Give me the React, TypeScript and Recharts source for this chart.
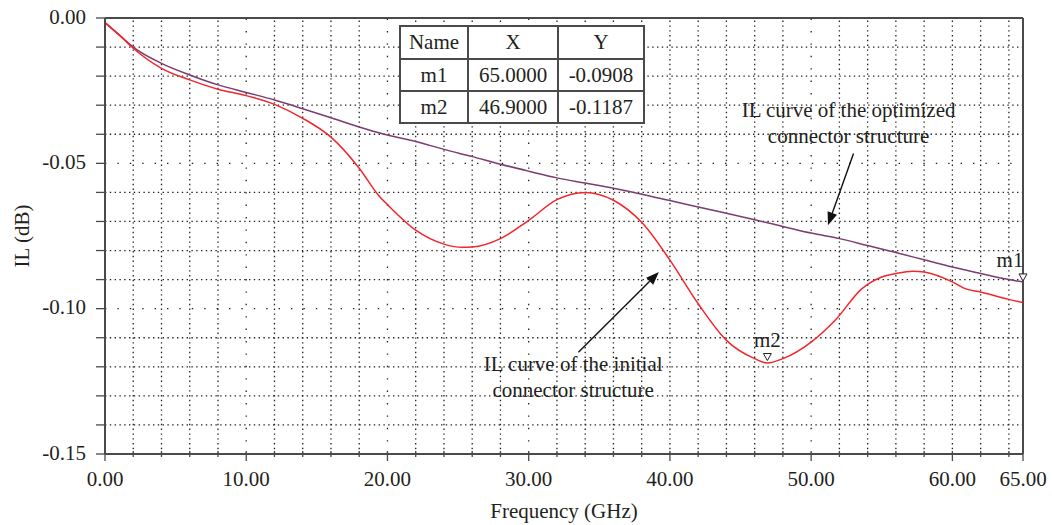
import React from 'react'
import { LineChart, Line, XAxis, YAxis, ReferenceLine, ReferenceDot } from 'recharts'

// optimized connector (purple)
const freqOpt = [0, 1, 2, 4, 6, 8, 10, 12, 14, 16, 18, 19.7, 22, 24, 26, 28, 30, 32, 34, 36, 38, 40, 42, 44, 46, 48, 50, 52, 54, 56, 58, 60, 62, 64, 65]
const ilOpt = [-0.0016, -0.0058, -0.01, -0.0156, -0.0196, -0.023, -0.0256, -0.0282, -0.0312, -0.0343, -0.0375, -0.0399, -0.0425, -0.0452, -0.0477, -0.0503, -0.0527, -0.055, -0.0568, -0.0586, -0.0606, -0.0628, -0.065, -0.0672, -0.0694, -0.0717, -0.074, -0.0759, -0.0783, -0.0807, -0.0832, -0.0857, -0.0879, -0.09, -0.0908]

// initial connector (red)
const freqInit = [0, 1, 2, 4, 6, 8, 10, 12, 14, 16, 18, 19.4, 20, 22, 24, 25.3, 26, 28, 30, 32, 34, 36, 38, 40, 42, 44, 46, 46.9, 48, 50, 51.7, 53.6, 55, 56, 57.2, 58, 60, 60.9, 62, 64, 65]
const ilInit = [-0.0016, -0.0058, -0.0104, -0.0173, -0.0213, -0.0245, -0.0267, -0.0297, -0.0345, -0.041, -0.0517, -0.0612, -0.0642, -0.073, -0.0778, -0.0789, -0.0788, -0.0759, -0.0696, -0.0625, -0.06, -0.0627, -0.0703, -0.0833, -0.0983, -0.1109, -0.1172, -0.1187, -0.1172, -0.1115, -0.104, -0.0931, -0.0891, -0.0879, -0.0871, -0.0874, -0.0908, -0.0931, -0.0943, -0.0968, -0.0979]

// markers
const markerNames = ['m1', 'm2']
const markerX = [65, 46.9]
const markerY = [-0.0908, -0.1187]

// axis ticks
const xTicks = [...Array.from({ length: 33 }, (_, i) => i * 2), 65]
const yTicks = Array.from({ length: 16 }, (_, i) => Number((-i * 0.01).toFixed(2)))
const xSparse = [10, 20, 30, 50]
const ySparse = [-0.05, -0.1]

const optData = freqOpt.map((f, i) => ({ f, il: ilOpt[i] }))
const initData = freqInit.map((f, i) => ({ f, il: ilInit[i] }))

const SERIF = '"Liberation Serif", "Times New Roman", serif'
const FS = 21
const INK = '#231f20'
const AXIS = '#4a4a4a'

const XTick = ({ x, y, payload }: any) => {
  const v = payload.value
  const major = v % 10 === 0 || v === 65
  return (
    <g>
      <line x1={x} x2={x} y1={y - 3} y2={y + (major ? 7 : 3)} stroke={AXIS} strokeWidth={1.3} />
      {major && (
        <text x={x} y={y + 32} textAnchor="middle" fontFamily={SERIF} fontSize={FS} fill={INK}>
          {v.toFixed(2)}
        </text>
      )}
    </g>
  )
}

const YTick = ({ x, y, payload }: any) => {
  const v = payload.value
  const major = Math.round(Math.abs(v) * 100) % 5 === 0
  return (
    <g>
      <line x1={x - 9} x2={x} y1={y} y2={y} stroke={AXIS} strokeWidth={1.3} />
      {major && (
        <text x={x - 19} y={y + 5.5} textAnchor="end" fontFamily={SERIF} fontSize={FS} fill={INK}>
          {v.toFixed(2)}
        </text>
      )}
    </g>
  )
}

const Arrow = ({ x1, y1, x2, y2 }: any) => {
  const a = Math.atan2(y2 - y1, x2 - x1)
  const L = 13
  const W = 5
  const bx = x2 - L * Math.cos(a)
  const by = y2 - L * Math.sin(a)
  const px = -Math.sin(a) * W
  const py = Math.cos(a) * W
  return (
    <g>
      <line x1={x1} y1={y1} x2={bx} y2={by} stroke="#111" strokeWidth={1.4} />
      <polygon points={`${x2},${y2} ${bx + px},${by + py} ${bx - px},${by - py}`} fill="#111" />
    </g>
  )
}

const Note = (lines: string[]) => ({ cx, cy }: any) => (
  <text x={cx} y={cy + 7} textAnchor="middle" fontFamily={SERIF} fontSize={FS} fill={INK}>
    {lines.map((l, i) => (
      <tspan key={i} x={cx} dy={i === 0 ? 0 : 26}>
        {l}
      </tspan>
    ))}
  </text>
)

const Marker = (name: string, dx: number, tipGap: number) => ({ cx, cy }: any) => {
  const ty = cy - tipGap
  return (
    <g>
      <polygon points={`${cx - 4},${ty - 7} ${cx + 4},${ty - 7} ${cx},${ty}`} fill="#fff" stroke="#222" strokeWidth={1} />
      <text x={cx + dx} y={ty - 14} textAnchor="middle" fontFamily={SERIF} fontSize={FS} fill={INK}>
        {name}
      </text>
    </g>
  )
}

const cell: React.CSSProperties = {
  border: '2px solid #4a4a4a',
  padding: 0,
  textAlign: 'center',
  verticalAlign: 'middle',
}

export default function App() {
  return (
    <div style={{ position: 'absolute', left: 0, top: 0, width: 1052, height: 525, background: '#fff', fontFamily: SERIF }}>
      <LineChart width={1052} height={525} margin={{ top: 18, right: 29, left: 0, bottom: 0 }}>
        <XAxis
          dataKey="f"
          type="number"
          domain={[0, 65]}
          ticks={xTicks}
          interval={0}
          allowDataOverflow
          height={71}
          tickSize={0}
          tickMargin={0}
          tickLine={false}
          tick={<XTick />}
          axisLine={{ stroke: AXIS, strokeWidth: 2 }}
          label={{ value: 'Frequency (GHz)', position: 'insideBottom', offset: 7, fontFamily: SERIF, fontSize: FS, fill: INK }}
        />
        <YAxis
          type="number"
          domain={[-0.15, 0]}
          ticks={yTicks}
          interval={0}
          allowDataOverflow
          width={105}
          tickSize={0}
          tickMargin={0}
          tickLine={false}
          tick={<YTick />}
          axisLine={{ stroke: AXIS, strokeWidth: 2 }}
          label={{
            content: ({ viewBox }: any) => {
              const x = viewBox.x + 22
              const y = viewBox.y + viewBox.height / 2
              return (
                <text x={x} y={y} transform={`rotate(-90 ${x} ${y})`} textAnchor="middle" dominantBaseline="central" fontFamily={SERIF} fontSize={FS} fill={INK}>
                  IL (dB)
                </text>
              )
            },
          }}
        />

        {xTicks.filter((v) => v > 0 && v < 65).map((v) => (
          <ReferenceLine key={'vx' + v} x={v} stroke="#222" strokeWidth={1.3} strokeDasharray={xSparse.includes(v) ? '1.4 11' : '1.4 3.4'} />
        ))}
        {yTicks.filter((v) => v < 0 && v > -0.15).map((v) => (
          <ReferenceLine key={'hy' + v} y={v} stroke="#222" strokeWidth={1.3} strokeDasharray={ySparse.includes(v) ? '1.4 11' : '1.4 3.4'} />
        ))}
        <ReferenceLine y={0} stroke={AXIS} strokeWidth={2} />
        <ReferenceLine x={65} stroke={AXIS} strokeWidth={2} />

        <Line data={optData} dataKey="il" type="monotone" stroke="#7d3c6f" strokeWidth={1.5} dot={false} isAnimationActive={false} />
        <Line data={initData} dataKey="il" type="monotone" stroke="#f2262b" strokeWidth={1.5} dot={false} isAnimationActive={false} />

        <ReferenceLine segment={[{ x: 53.0, y: -0.0466 }, { x: 51.19, y: -0.0713 }]} shape={<Arrow />} ifOverflow="visible" />
        <ReferenceLine segment={[{ x: 33.52, y: -0.115 }, { x: 39.22, y: -0.0874 }]} shape={<Arrow />} ifOverflow="visible" />
        <ReferenceDot x={52.65} y={-0.0316} r={0} ifOverflow="visible" shape={Note(['IL curve of the optimized', 'connector structure'])} />
        <ReferenceDot x={33.15} y={-0.1189} r={0} ifOverflow="visible" shape={Note(['IL curve of the initial', 'connector structure'])} />

        <ReferenceDot x={markerX[0]} y={markerY[0]} r={0} ifOverflow="visible" shape={Marker(markerNames[0], -13, 1)} />
        <ReferenceDot x={markerX[1]} y={markerY[1]} r={0} ifOverflow="visible" shape={Marker(markerNames[1], 0, 2.5)} />
      </LineChart>

      <table style={{ position: 'absolute', left: 399, top: 25, borderCollapse: 'collapse', background: '#fff', fontFamily: SERIF, fontSize: FS, color: INK }}>
        <tbody>
          <tr style={{ height: 33 }}>
            <td style={{ ...cell, width: 66 }}>Name</td>
            <td style={{ ...cell, width: 88 }}>X</td>
            <td style={{ ...cell, width: 84 }}>Y</td>
          </tr>
          {markerNames.map((n, i) => (
            <tr key={n} style={{ height: 32 }}>
              <td style={cell}>{n}</td>
              <td style={cell}>{markerX[i].toFixed(4)}</td>
              <td style={cell}>{markerY[i].toFixed(4)}</td>
            </tr>
          ))}
        </tbody>
      </table>
    </div>
  )
}
